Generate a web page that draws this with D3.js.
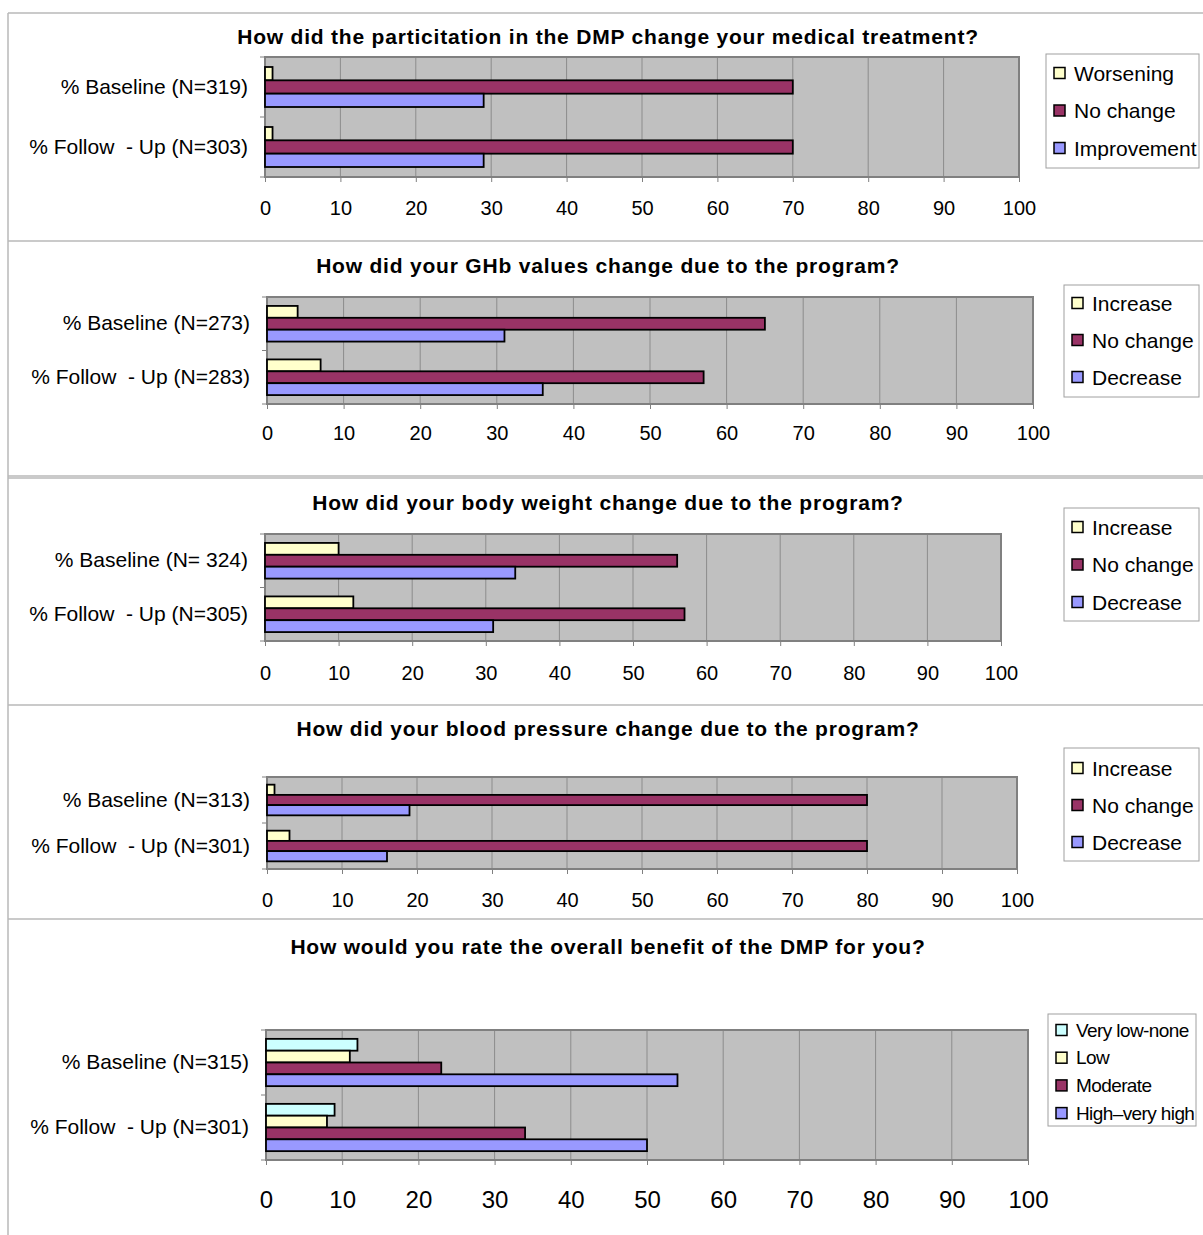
<!DOCTYPE html>
<html>
<head>
<meta charset="utf-8">
<script src="https://cdn.jsdelivr.net/npm/d3@7"></script>
<style>
  html, body { margin: 0; padding: 0; background: #fff; }
  text { font-family: "Liberation Sans", Arial, sans-serif; white-space: pre; }
</style>
</head>
<body>
<script>
// ---- data ----
const xTicks = [0, 10, 20, 30, 40, 50, 60, 70, 80, 90, 100];

const treatmentCats = ["% Baseline (N=319)", "% Follow  - Up (N=303)"];
const treatmentSeries = ["Worsening", "No change", "Improvement"];
const treatmentBaseline = [1, 70, 29];
const treatmentFollowUp = [1, 70, 29];

const ghbCats = ["% Baseline (N=273)", "% Follow  - Up (N=283)"];
const ghbSeries = ["Increase", "No change", "Decrease"];
const ghbBaseline = [4, 65, 31];
const ghbFollowUp = [7, 57, 36];

const weightCats = ["% Baseline (N= 324)", "% Follow  - Up (N=305)"];
const weightSeries = ["Increase", "No change", "Decrease"];
const weightBaseline = [10, 56, 34];
const weightFollowUp = [12, 57, 31];

const bpCats = ["% Baseline (N=313)", "% Follow  - Up (N=301)"];
const bpSeries = ["Increase", "No change", "Decrease"];
const bpBaseline = [1, 80, 19];
const bpFollowUp = [3, 80, 16];

const benefitCats = ["% Baseline (N=315)", "% Follow  - Up (N=301)"];
const benefitSeries = ["Very low-none", "Low", "Moderate", "High\u2013very high"];
const benefitBaseline = [12, 11, 23, 54];
const benefitFollowUp = [9, 8, 34, 50];

// colours by series name
const color = d3.scaleOrdinal()
  .domain(["Worsening", "Increase", "Low", "No change", "Moderate", "Improvement", "Decrease", "High\u2013very high", "Very low-none"])
  .range(["#FFFFCC", "#FFFFCC", "#FFFFCC", "#993366", "#993366", "#9999FF", "#9999FF", "#9999FF", "#CCFFFF"]);

// ---- layout per panel ----
const panels = [
  { title: "How did the particitation in the DMP change your medical treatment?", titleY: 36,
    cats: treatmentCats, series: treatmentSeries, values: [treatmentBaseline, treatmentFollowUp],
    x0: 265, x1: 1019, y0: 57, y1: 177, tickPad: 19, tickFont: 20,
    legend: { x: 1046, y: 54, w: 153, h: 114, first: 19, step: 37.5, font: 21 } },
  { title: "How did your GHb values change due to the program?", titleY: 265,
    cats: ghbCats, series: ghbSeries, values: [ghbBaseline, ghbFollowUp],
    x0: 267, x1: 1033, y0: 297, y1: 404, tickPad: 17, tickFont: 20,
    legend: { x: 1064, y: 285, w: 135, h: 112, first: 18, step: 37, font: 21 } },
  { title: "How did your body weight change due to the program?", titleY: 502,
    cats: weightCats, series: weightSeries, values: [weightBaseline, weightFollowUp],
    x0: 265, x1: 1001, y0: 534, y1: 641, tickPad: 20, tickFont: 20,
    legend: { x: 1064, y: 508, w: 135, h: 113, first: 19, step: 37.5, font: 21 } },
  { title: "How did your blood pressure change due to the program?", titleY: 728,
    cats: bpCats, series: bpSeries, values: [bpBaseline, bpFollowUp],
    x0: 267, x1: 1017, y0: 777, y1: 869, tickPad: 19, tickFont: 20,
    legend: { x: 1064, y: 748, w: 135, h: 113, first: 20, step: 37, font: 21 } },
  { title: "How would you rate the overall benefit of the DMP for you?", titleY: 946,
    cats: benefitCats, series: benefitSeries, values: [benefitBaseline, benefitFollowUp],
    x0: 266, x1: 1028, y0: 1030, y1: 1160, tickPad: 26, tickFont: 24,
    legend: { x: 1048, y: 1014, w: 148, h: 112, first: 16, step: 27.7, font: 19, spacing: -0.6 } }
];

const W = 1203, H = 1235;
const svg = d3.select("body").append("svg")
  .attr("width", W).attr("height", H);

svg.append("rect").attr("width", W).attr("height", H).attr("fill", "#fff");

// outer frame lines
const frame = svg.append("g").attr("stroke", "#b8b8b8").attr("stroke-width", 1.5);
frame.append("line").attr("x1", 8).attr("x2", 8).attr("y1", 13).attr("y2", H);
[13, 241, 476, 478, 705, 919].forEach(y => {
  frame.append("line").attr("x1", 8).attr("x2", W).attr("y1", y).attr("y2", y);
});

function drawPanel(p) {
  const g = svg.append("g");

  const x = d3.scaleLinear().domain([0, 100]).range([p.x0, p.x1]);
  const y = d3.scaleBand().domain(p.cats).range([p.y0, p.y1]);
  const yInner = d3.scaleBand().domain(p.series)
    .range([0, y.bandwidth()]).paddingInner(0).paddingOuter(0.75);

  // title
  g.append("text")
    .attr("x", 608).attr("y", p.titleY)
    .attr("text-anchor", "middle").attr("dominant-baseline", "central")
    .attr("font-size", 21).attr("font-weight", "bold")
    .attr("letter-spacing", 0.8)
    .text(p.title);

  // plot background
  g.append("rect")
    .attr("x", p.x0).attr("y", p.y0)
    .attr("width", p.x1 - p.x0).attr("height", p.y1 - p.y0)
    .attr("fill", "#C0C0C0");

  // gridlines
  g.selectAll(".grid").data(xTicks.slice(1, -1)).enter()
    .append("line")
    .attr("x1", d => x(d)).attr("x2", d => x(d))
    .attr("y1", p.y0).attr("y2", p.y1)
    .attr("stroke", "#8c8c8c").attr("stroke-width", 1);

  // plot border
  g.append("rect")
    .attr("x", p.x0).attr("y", p.y0)
    .attr("width", p.x1 - p.x0).attr("height", p.y1 - p.y0)
    .attr("fill", "none").attr("stroke", "#808080").attr("stroke-width", 2);

  // bars
  const rows = [];
  p.cats.forEach((c, ci) => {
    p.series.forEach((s, si) => rows.push({ cat: c, s: s, v: p.values[ci][si] }));
  });
  g.selectAll(".bar").data(rows).enter()
    .append("rect")
    .attr("x", x(0))
    .attr("y", d => y(d.cat) + yInner(d.s))
    .attr("width", d => x(d.v) - x(0))
    .attr("height", yInner.bandwidth())
    .attr("fill", d => color(d.s))
    .attr("stroke", "#000").attr("stroke-width", 1.8);

  // x axis
  const xAxis = g.append("g")
    .attr("transform", `translate(0,${p.y1})`)
    .call(d3.axisBottom(x).tickValues(xTicks).tickSize(5).tickPadding(p.tickPad).tickFormat(d3.format("d")));
  xAxis.select(".domain").remove();
  xAxis.selectAll("line").attr("stroke", "#808080");
  xAxis.selectAll("text").attr("font-size", p.tickFont)
    .attr("font-family", "Liberation Sans, Arial, sans-serif").attr("fill", "#000");

  // category axis
  const yAxis = g.append("g")
    .attr("transform", `translate(${p.x0},0)`)
    .call(d3.axisLeft(y).tickSize(0).tickPadding(17));
  yAxis.select(".domain").remove();
  yAxis.selectAll("text").attr("font-size", 21)
    .attr("font-family", "Liberation Sans, Arial, sans-serif").attr("fill", "#000");

  // category boundary ticks
  const bounds = [y(p.cats[0]), y(p.cats[1]), y(p.cats[1]) + y.bandwidth()];
  g.selectAll(".ctick").data(bounds).enter()
    .append("line")
    .attr("x1", p.x0 - 5).attr("x2", p.x0)
    .attr("y1", d => d).attr("y2", d => d)
    .attr("stroke", "#808080");

  // legend
  const L = p.legend;
  const lg = g.append("g");
  lg.append("rect")
    .attr("x", L.x).attr("y", L.y).attr("width", L.w).attr("height", L.h)
    .attr("fill", "#fff").attr("stroke", "#a0a0a0").attr("stroke-width", 1);
  const items = lg.selectAll(".item").data(p.series).enter()
    .append("g")
    .attr("transform", (d, i) => `translate(${L.x + 8},${L.y + L.first + i * L.step})`);
  items.append("rect")
    .attr("x", 0).attr("y", -5.5).attr("width", 11).attr("height", 11)
    .attr("fill", d => color(d)).attr("stroke", "#000").attr("stroke-width", 1.5);
  items.append("text")
    .attr("x", 20).attr("y", 0).attr("dominant-baseline", "central")
    .attr("font-size", L.font)
    .attr("letter-spacing", L.spacing || 0)
    .text(d => d);
}

panels.forEach(drawPanel);
</script>
</body>
</html>
